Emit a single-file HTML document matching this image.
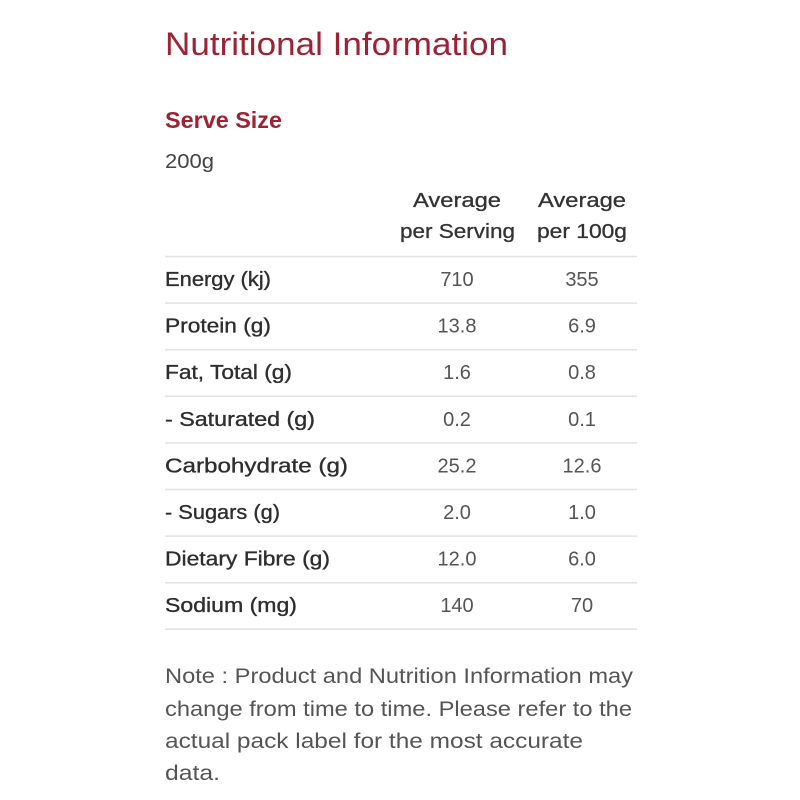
<!DOCTYPE html>
<html>
<head>
<meta charset="utf-8">
<style>
  html,body{margin:0;padding:0;background:#fff;}
  svg{display:block;}
  text{font-family:"Liberation Sans",sans-serif;}
  .t{fill:#9b2335;font-size:32px;}
  .ss{fill:#9b2335;font-size:23px;font-weight:bold;}
  .g{fill:#444;font-size:20px;}
  .h{fill:#333;font-size:20px;stroke:#333;stroke-width:0.3;}
  .l{fill:#2e2e2e;font-size:20px;stroke:#2e2e2e;stroke-width:0.35;}
  .v{fill:#555;font-size:20px;}
  .n{fill:#555;font-size:21px;}
</style>
</head>
<body>
<svg width="800" height="800" viewBox="0 0 800 800" xmlns="http://www.w3.org/2000/svg">
  <rect width="800" height="800" fill="#fff"/>
  <text class="t" x="165" y="55" textLength="343" lengthAdjust="spacingAndGlyphs">Nutritional Information</text>
  <text class="ss" x="165" y="128" textLength="117" lengthAdjust="spacingAndGlyphs">Serve Size</text>
  <text class="g" x="165" y="168" textLength="49" lengthAdjust="spacingAndGlyphs">200g</text>

  <text class="h" x="413" y="207" textLength="88" lengthAdjust="spacingAndGlyphs">Average</text>
  <text class="h" x="400" y="238" textLength="115" lengthAdjust="spacingAndGlyphs">per Serving</text>
  <text class="h" x="538" y="207" textLength="88" lengthAdjust="spacingAndGlyphs">Average</text>
  <text class="h" x="537" y="238" textLength="90" lengthAdjust="spacingAndGlyphs">per 100g</text>

  <g stroke="#e2e2e2" stroke-width="1.5">
    <line x1="165" x2="637" y1="256.5" y2="256.5"/>
    <line x1="165" x2="637" y1="303.1" y2="303.1"/>
    <line x1="165" x2="637" y1="349.7" y2="349.7"/>
    <line x1="165" x2="637" y1="396.3" y2="396.3"/>
    <line x1="165" x2="637" y1="442.9" y2="442.9"/>
    <line x1="165" x2="637" y1="489.5" y2="489.5"/>
    <line x1="165" x2="637" y1="536.1" y2="536.1"/>
    <line x1="165" x2="637" y1="582.7" y2="582.7"/>
    <line x1="165" x2="637" y1="629.3" y2="629.3"/>
  </g>

  <text class="l" x="165" y="286" textLength="106" lengthAdjust="spacingAndGlyphs">Energy (kj)</text>
  <text class="l" x="165" y="332.6" textLength="106" lengthAdjust="spacingAndGlyphs">Protein (g)</text>
  <text class="l" x="165" y="379.2" textLength="127" lengthAdjust="spacingAndGlyphs">Fat, Total (g)</text>
  <text class="l" x="165" y="425.8" textLength="150" lengthAdjust="spacingAndGlyphs">- Saturated (g)</text>
  <text class="l" x="165" y="472.4" textLength="183" lengthAdjust="spacingAndGlyphs">Carbohydrate (g)</text>
  <text class="l" x="165" y="519" textLength="115" lengthAdjust="spacingAndGlyphs">- Sugars (g)</text>
  <text class="l" x="165" y="565.6" textLength="165" lengthAdjust="spacingAndGlyphs">Dietary Fibre (g)</text>
  <text class="l" x="165" y="612.2" textLength="132" lengthAdjust="spacingAndGlyphs">Sodium (mg)</text>

  <g text-anchor="middle">
    <text class="v" x="457" y="286">710</text>
    <text class="v" x="582" y="286">355</text>
    <text class="v" x="457" y="332.6">13.8</text>
    <text class="v" x="582" y="332.6">6.9</text>
    <text class="v" x="457" y="379.2">1.6</text>
    <text class="v" x="582" y="379.2">0.8</text>
    <text class="v" x="457" y="425.8">0.2</text>
    <text class="v" x="582" y="425.8">0.1</text>
    <text class="v" x="457" y="472.4">25.2</text>
    <text class="v" x="582" y="472.4">12.6</text>
    <text class="v" x="457" y="519">2.0</text>
    <text class="v" x="582" y="519">1.0</text>
    <text class="v" x="457" y="565.6">12.0</text>
    <text class="v" x="582" y="565.6">6.0</text>
    <text class="v" x="457" y="612.2">140</text>
    <text class="v" x="582" y="612.2">70</text>
  </g>

  <text class="n" x="165" y="683" textLength="468" lengthAdjust="spacingAndGlyphs">Note : Product and Nutrition Information may</text>
  <text class="n" x="165" y="716" textLength="467" lengthAdjust="spacingAndGlyphs">change from time to time. Please refer to the</text>
  <text class="n" x="165" y="748" textLength="418" lengthAdjust="spacingAndGlyphs">actual pack label for the most accurate</text>
  <text class="n" x="165" y="780" textLength="55" lengthAdjust="spacingAndGlyphs">data.</text>
</svg>
</body>
</html>
